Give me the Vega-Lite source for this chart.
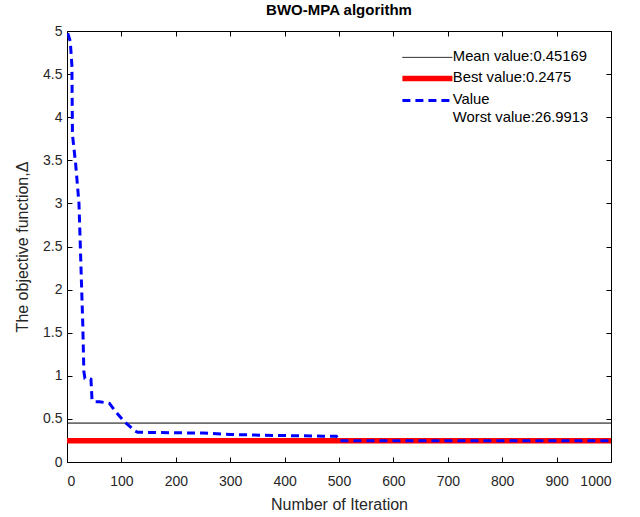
{
  "$schema": "https://vega.github.io/schema/vega-lite/v6.json",
  "autosize": {"type": "none"},
  "padding": {"left": 67, "top": 31, "right": 29, "bottom": 55},
  "width": 544,
  "height": 431,
  "background": "white",
  "title": {"text": "BWO-MPA algorithm", "fontSize": 15, "fontWeight": "bold", "font": "Liberation Sans", "color": "black", "offset": 6, "anchor": "middle"},
  "config": {
    "view": {"stroke": "black", "strokeWidth": 1},
    "axis": {"grid": false, "domain": false, "tickColor": "black", "tickSize": -5, "labelFont": "Liberation Sans", "labelFontSize": 14, "labelColor": "#262626", "titleFont": "Liberation Sans", "titleFontSize": 16, "titleFontWeight": "normal", "titleColor": "#262626"},
    "legend": {"labelFont": "Liberation Sans", "labelFontSize": 14.8, "labelColor": "black"}
  },
  "datasets": {
    "refs": [
      {"series": "Mean value:0.45169", "y": 0.45169},
      {"series": "Best value:0.2475", "y": 0.2475}
    ],
    "curve": [
      {"series": "Value", "iter": 0, "value": 26.9913},
      {"series": "Value", "iter": 1, "value": 4.98},
      {"series": "Value", "iter": 6, "value": 4.88},
      {"series": "Value", "iter": 9, "value": 4.6},
      {"series": "Value", "iter": 10, "value": 3.8},
      {"series": "Value", "iter": 16, "value": 3.45},
      {"series": "Value", "iter": 22, "value": 3.0},
      {"series": "Value", "iter": 26, "value": 2.2},
      {"series": "Value", "iter": 29, "value": 1.6},
      {"series": "Value", "iter": 31, "value": 1.05},
      {"series": "Value", "iter": 33, "value": 0.97},
      {"series": "Value", "iter": 44, "value": 0.96},
      {"series": "Value", "iter": 46, "value": 0.72},
      {"series": "Value", "iter": 50, "value": 0.7},
      {"series": "Value", "iter": 60, "value": 0.7},
      {"series": "Value", "iter": 78, "value": 0.68},
      {"series": "Value", "iter": 90, "value": 0.58},
      {"series": "Value", "iter": 105, "value": 0.47},
      {"series": "Value", "iter": 116, "value": 0.41},
      {"series": "Value", "iter": 125, "value": 0.36},
      {"series": "Value", "iter": 130, "value": 0.345},
      {"series": "Value", "iter": 250, "value": 0.335},
      {"series": "Value", "iter": 300, "value": 0.32},
      {"series": "Value", "iter": 360, "value": 0.31},
      {"series": "Value", "iter": 470, "value": 0.3},
      {"series": "Value", "iter": 495, "value": 0.3},
      {"series": "Value", "iter": 500, "value": 0.2475},
      {"series": "Value", "iter": 1000, "value": 0.2475}
    ]
  },
  "layer": [
    {
      "data": {"name": "refs"},
      "mark": {"type": "rule"},
      "encoding": {
        "y": {"field": "y", "type": "quantitative", "scale": {"domain": [0, 5], "nice": false}, "axis": null},
        "strokeWidth": {"condition": {"test": "datum.series === 'Best value:0.2475'", "value": 5.5}, "value": 1},
        "color": {"field": "series", "type": "nominal",
          "scale": {"domain": ["Mean value:0.45169", "Best value:0.2475", "Value", "Worst value:26.9913"], "range": ["black", "#ff0000", "#0000ff", "transparent"]},
          "legend": {"title": null, "orient": "none", "legendX": 353, "legendY": 19, "symbolType": "stroke", "symbolSize": 2500, "rowPadding": 2, "labelOffset": 18, "padding": 0,
            "encode": {"symbols": {"update": {
              "strokeWidth": {"signal": "datum.value === 'Best value:0.2475' ? 5.5 : (datum.value === 'Value' ? 3 : 1)"},
              "strokeDash": {"signal": "datum.value === 'Value' ? [8, 5] : [1, 0]"}
            }}}}
        }
      }
    },
    {
      "data": {"name": "curve"},
      "mark": {"type": "line", "clip": true, "strokeWidth": 3, "strokeDash": [8, 5]},
      "encoding": {
        "x": {"field": "iter", "type": "quantitative", "scale": {"domain": [0, 1000], "nice": false}, "axis": {"title": "Number of Iteration", "values": [0,100,200,300,400,500,600,700,800,900,1000], "format": "d", "labelPadding": 17, "titlePadding": 8}},
        "y": {"field": "value", "type": "quantitative", "scale": {"domain": [0, 5], "nice": false}, "axis": {"title": "The objective function,Δ", "values": [0,0.5,1,1.5,2,2.5,3,3.5,4,4.5,5], "format": "~g", "labelPadding": 10, "titlePadding": 12}},
        "color": {"field": "series", "type": "nominal"}
      }
    },
    {
      "data": {"name": "refs"},
      "mark": {"type": "point", "opacity": 0, "clip": true},
      "encoding": {
        "x": {"datum": 500, "type": "quantitative", "scale": {"domain": [0, 1000], "nice": false}, "axis": {"orient": "top", "title": null, "labels": false, "values": [0,100,200,300,400,500,600,700,800,900,1000]}},
        "y": {"field": "y", "type": "quantitative", "scale": {"domain": [0, 5], "nice": false}, "axis": {"orient": "right", "title": null, "labels": false, "values": [0,0.5,1,1.5,2,2.5,3,3.5,4,4.5,5]}}
      }
    }
  ],
  "resolve": {"scale": {"x": "independent", "y": "independent"}, "axis": {"x": "independent", "y": "independent"}}
}
